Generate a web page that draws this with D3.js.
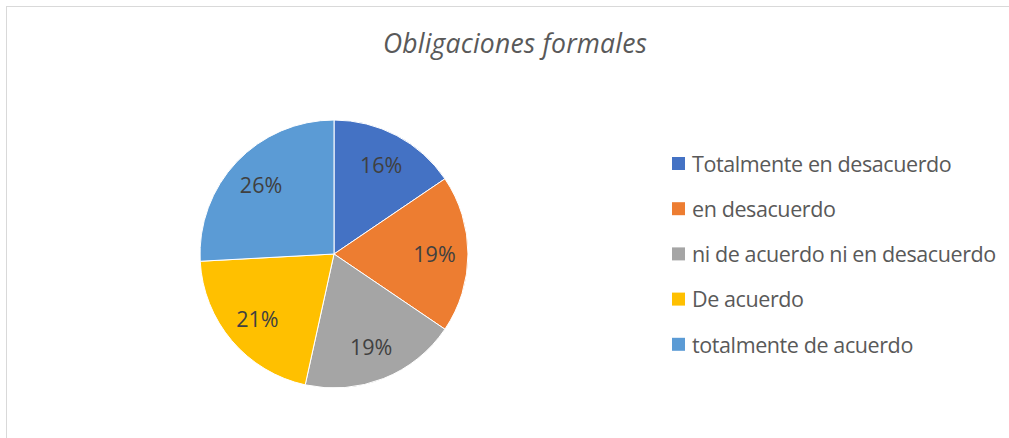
<!DOCTYPE html>
<html>
<head>
<meta charset="utf-8">
<script src="https://cdn.jsdelivr.net/npm/d3@7"></script>
<style>
	body { margin: 0; background: #fff; }
	svg { display: block; }
</style>
</head>
<body>
<svg id="chart-svg" width="1009" height="438"></svg>
<script>
// datos (conteos, porcentajes redondeados en la etiqueta)
const categories = [
	"Totalmente en desacuerdo",
	"en desacuerdo",
	"ni de acuerdo ni en desacuerdo",
	"De acuerdo",
	"totalmente de acuerdo",
];
const values = [9, 11, 11, 12, 15];
const colors = ["#4472C4", "#ED7D31", "#A5A5A5", "#FFC000", "#5B9BD5"];
const title = "Obligaciones formales";

const svg = d3.select("#chart-svg");
const width = +svg.attr("width");
const height = +svg.attr("height");

// marco del area del grafico
svg.append("rect")
	.attr("x", 6.5)
	.attr("y", 6.5)
	.attr("width", width + 20)
	.attr("height", height + 20)
	.attr("fill", "#fff")
	.attr("stroke", "#d9d9d9")
	.attr("stroke-width", 1);

const titleText = svg.append("text")
	.attr("x", 515)
	.attr("y", 53)
	.attr("text-anchor", "middle")
	.attr("font-family", "'Open Sans', sans-serif")
	.attr("font-style", "italic")
	.attr("font-size", 26.5)
	.attr("fill", "#595959")
	.text(title);
// ajustar ancho al del original (~264px)
titleText.attr("textLength", 264).attr("lengthAdjust", "spacing");

const cx = 334;
const cy = 254;
const r = 134;

const total = d3.sum(values);
const pie = d3.pie().sort(null).value((d) => d.value);
const arcs = pie(categories.map((c, i) => ({ name: c, value: values[i] })));

const arc = d3.arc().innerRadius(0).outerRadius(r);
const labelArc = d3.arc().innerRadius(r * 0.75).outerRadius(r * 0.75);

const color = d3.scaleOrdinal().domain(categories).range(colors);

const g = svg.append("g").attr("transform", `translate(${cx},${cy})`);

g.selectAll("path")
	.data(arcs)
	.join("path")
	.attr("d", arc)
	.attr("fill", (d) => color(d.data.name))
	.attr("stroke", "#fff")
	.attr("stroke-width", 1);

g.selectAll("text")
	.data(arcs)
	.join("text")
	.attr("transform", (d) => `translate(${labelArc.centroid(d)})`)
	.attr("text-anchor", "middle")
	.attr("dy", "0.36em")
	.attr("font-family", "'Open Sans', sans-serif")
	.attr("font-size", 21.5)
	.attr("fill", "#404040")
	.text((d) => Math.round((d.data.value / total) * 100) + "%");

// leyenda
const legend = svg.append("g").attr("transform", "translate(672,164)");
const row = legend.selectAll("g")
	.data(categories)
	.join("g")
	.attr("transform", (d, i) => `translate(0,${i * 45.2})`);

row.append("rect")
	.attr("x", 0)
	.attr("y", -7)
	.attr("width", 13)
	.attr("height", 13)
	.attr("fill", (d) => color(d));

row.append("text")
	.attr("x", 20)
	.attr("y", 0)
	.attr("dy", "0.36em")
	.attr("font-family", "'Open Sans', sans-serif")
	.attr("font-size", 21.5)
	.attr("letter-spacing", -0.4)
	.attr("fill", "#595959")
	.text((d) => d);
</script>
</body>
</html>
